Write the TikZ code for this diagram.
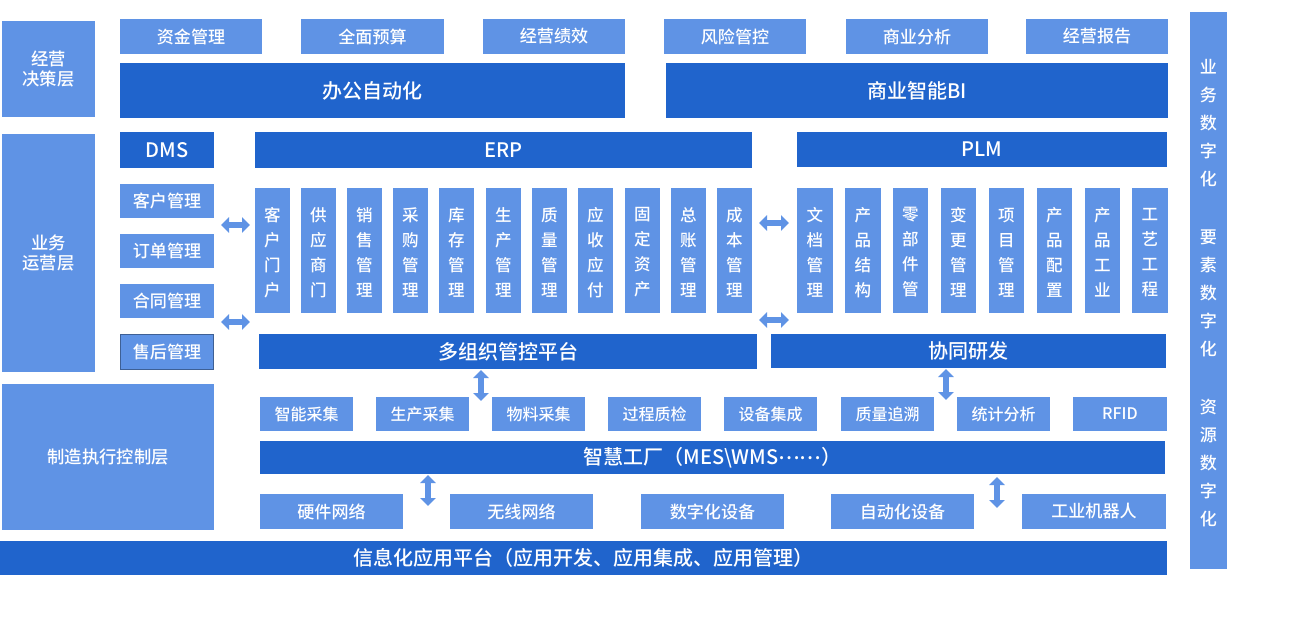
\documentclass[tikz,border=0pt]{standalone}
\usepackage{fontspec}
\setmainfont{Noto Sans CJK SC Medium}
\usetikzlibrary{arrows.meta}
\definecolor{lightb}{HTML}{5F93E5}
\definecolor{darkb}{HTML}{2064CC}
\newcommand\bx[7]{%
  \pgfmathsetmacro\bw{(#5-#3)*0.75}\pgfmathsetmacro\bh{(#6-#4)*0.75}%
  \node[#1,minimum width=\bw pt,minimum height=\bh pt] (#2) at ({(#3+#5)/2},{(#4+#6)/2}) {#7};}
% column box plus its vertical text, set 2px below the box centre
\newcommand\cb[4]{%
  \bx{lite}{#1}{#2}{188}{#3}{313}{}%
  \node[coltxt] (#1t) at ([yshift=-1.5pt]#1.center) {#4};}
\newcommand\up[1]{\raisebox{0.75pt}{#1}}
\tikzset{
  base/.style={inner sep=0pt,outer sep=0pt,text=white,align=center,draw=none},
  lite/.style={base,fill=lightb},
  dark/.style={base,fill=darkb},
  s16/.style={font=\fontsize{12}{15}\selectfont},
  s17/.style={font=\fontsize{12.8}{16}\selectfont},
  s13/.style={font=\fontsize{13}{15.5}\selectfont},
  s13b/.style={font=\fontsize{13}{14.5}\selectfont},
  s20/.style={font=\fontsize{15}{18}\selectfont},
  coltxt/.style={base,font=\fontsize{12.4}{18.75}\selectfont},
  sidetxt/.style={base,font=\fontsize{12.8}{21}\selectfont},
  arrw/.style={draw=lightb,line width=4.2pt,{Triangle[width=11.5pt,length=6pt]}-{Triangle[width=11.5pt,length=6pt]}}
}
\begin{document}
\begin{tikzpicture}[x=0.75pt,y=-0.75pt]
\useasboundingbox (0,0) rectangle (1300,618);
\fill[white] (0,0) rectangle (1300,618);
% left layers
\bx{lite,s13b}{L1}{2}{21}{95}{117}{\raisebox{1pt}{经营}\\\raisebox{1pt}{决策层}}
\bx{lite,s13}{L2}{2}{134}{95}{372}{\up{业务}\\\up{运营层}}
\bx{lite,s13}{L3}{2}{384}{214}{530}{\up{制造执行控制层}}
% top row
\bx{lite,s17}{T1}{120}{19}{262}{54}{\up{资金管理}}
\bx{lite,s17}{T2}{301}{19}{444}{54}{\up{全面预算}}
\bx{lite,s17}{T3}{483}{19}{625}{54}{\up{经营绩效}}
\bx{lite,s17}{T4}{664}{19}{806}{54}{\up{风险管控}}
\bx{lite,s17}{T5}{846}{19}{988}{54}{\up{商业分析}}
\bx{lite,s17}{T6}{1026}{19}{1168}{54}{\up{经营报告}}
\bx{dark,s20}{OA}{120}{63}{625}{118}{办公自动化}
\bx{dark,s20}{BI}{666}{63}{1168}{118}{商业智能BI}
% headers
\bx{dark,s20}{DMS}{120}{132}{214}{168}{DMS}
\bx{dark,s20}{ERP}{255}{132}{752}{168}{ERP}
\bx{dark,s20}{PLM}{797}{132}{1167}{167}{PLM}
% DMS list
\bx{lite,s17}{D1}{120}{184}{214}{218}{\up{客户管理}}
\bx{lite,s17}{D2}{120}{234}{214}{268}{\up{订单管理}}
\bx{lite,s17}{D3}{120}{284}{214}{318}{\up{合同管理}}
\bx{lite,s17,draw=black!35!lightb,line width=1pt}{D4}{120.5}{334.5}{213.5}{369.5}{\up{售后管理}}
% ERP columns
\cb{E1}{255}{290}{客\\户\\门\\户}
\cb{E2}{301}{336}{供\\应\\商\\门}
\cb{E3}{347}{382}{销\\售\\管\\理}
\cb{E4}{393}{428}{采\\购\\管\\理}
\cb{E5}{439}{474}{库\\存\\管\\理}
\cb{E6}{486}{521}{生\\产\\管\\理}
\cb{E7}{532}{567}{质\\量\\管\\理}
\cb{E8}{578}{613}{应\\收\\应\\付}
\cb{E9}{625}{660}{固\\定\\资\\产}
\cb{E10}{671}{706}{总\\账\\管\\理}
\cb{E11}{717}{752}{成\\本\\管\\理}
% PLM columns
\cb{P1}{797}{833}{文\\档\\管\\理}
\cb{P2}{845}{881}{产\\品\\结\\构}
\cb{P3}{893}{928}{零\\部\\件\\管}
\cb{P4}{941}{976}{变\\更\\管\\理}
\cb{P5}{989}{1024}{项\\目\\管\\理}
\cb{P6}{1037}{1072}{产\\品\\配\\置}
\cb{P7}{1085}{1120}{产\\品\\工\\业}
\cb{P8}{1132}{1168}{工\\艺\\工\\程}
% platforms
\bx{dark,s20}{MO}{259}{334}{757}{369}{多组织管控平台}
\bx{dark,s20}{XT}{771}{334}{1166}{368}{协同研发}
% collection row
\bx{lite,s16}{C1}{260}{397}{353}{431}{\up{智能采集}}
\bx{lite,s16}{C2}{376}{397}{469}{431}{\up{生产采集}}
\bx{lite,s16}{C3}{492}{397}{585}{431}{\up{物料采集}}
\bx{lite,s16}{C4}{608}{397}{701}{431}{\up{过程质检}}
\bx{lite,s16}{C5}{724}{397}{817}{431}{\up{设备集成}}
\bx{lite,s16}{C6}{841}{397}{934}{431}{\up{质量追溯}}
\bx{lite,s16}{C7}{957}{397}{1050}{431}{\up{统计分析}}
\bx{lite,s16}{C8}{1073}{397}{1167}{431}{\up{RFID}}
\bx{dark,s20}{MES}{260}{441}{1165}{474}{智慧工厂（MES\textbackslash WMS\raisebox{3.6pt}{……}）}
% hardware row
\bx{lite,s17}{H1}{260}{494}{403}{529}{\up{硬件网络}}
\bx{lite,s17}{H2}{450}{494}{593}{529}{\up{无线网络}}
\bx{lite,s17}{H3}{641}{494}{784}{529}{\up{数字化设备}}
\bx{lite,s17}{H4}{831}{494}{974}{529}{\up{自动化设备}}
\bx{lite,s17}{H5}{1022}{494}{1166}{529}{\up{工业机器人}}
\bx{dark,s20}{IT}{0}{541}{1167}{575}{\up{信息化应用平台（应用开发、应用集成、应用管理）}}
% right side bar
\bx{lite}{SB}{1190}{12}{1227}{569}{}
\node[sidetxt] (ST) at ([yshift=-2.25pt]SB.center) {业\\务\\数\\字\\化\\[22.5pt]要\\素\\数\\字\\化\\[22.5pt]资\\源\\数\\字\\化};
% arrows
\coordinate (ya) at (0,225); \coordinate (yb) at (0,322);
\coordinate (yc) at (0,223); \coordinate (yd) at (0,320);
\coordinate (xa) at (481,0); \coordinate (xb) at (946,0);
\coordinate (xc) at (428,0); \coordinate (xd) at (997,0);
\draw[arrw,shorten <=5.25pt,shorten >=3.75pt] (D1.east |- ya) -- (E1.west |- ya);
\draw[arrw,shorten <=5.25pt,shorten >=3.75pt] (D3.east |- yb) -- (E1.west |- yb);
\draw[arrw,shorten <=5.25pt,shorten >=6pt] (E11.east |- yc) -- (P1.west |- yc);
\draw[arrw,shorten <=5.25pt,shorten >=6pt] (E11.east |- yd) -- (P1.west |- yd);
\draw[arrw,shorten <=0.75pt,shorten >=-3pt] (xa |- MO.south) -- (xa |- C3.north);
\draw[arrw,shorten <=0.75pt,shorten >=-2.25pt] (xb |- XT.south) -- (xb |- C7.north);
\draw[arrw,shorten <=0.75pt,shorten >=-9pt] (xc |- MES.south) -- (xc |- H1.north);
\draw[arrw,shorten <=2.25pt,shorten >=-10.5pt] (xd |- MES.south) -- (xd |- H5.north);
\end{tikzpicture}
\end{document}
